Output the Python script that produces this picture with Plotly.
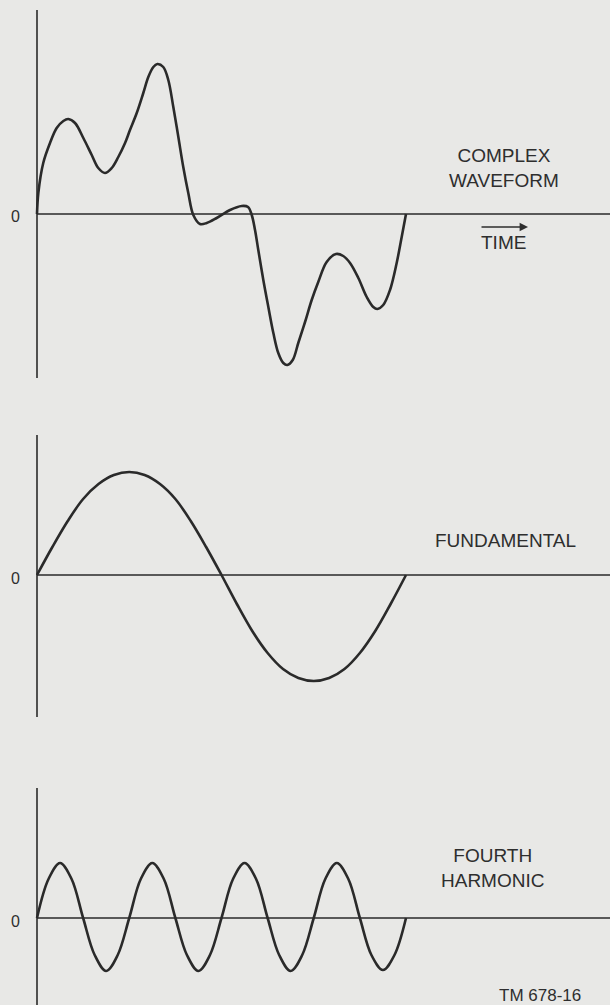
import plotly.graph_objects as go

# ---------------- data (time in degrees of the fundamental, amplitude in arbitrary units) -------------
complex_t = [0, 1.3, 6.1, 12.7, 19.2, 25.7, 30.5, 37.1, 45.2, 53.4, 59.8, 66.3, 72.9, 79.3, 85.9,
             90.7, 97.3, 103.7, 108.6, 113.5, 117.4, 123.2, 128.1, 133.0, 137.9, 142.7, 147.6,
             152.5, 159.0, 165.6, 175.3, 188.3, 199.7, 205.9, 209.5, 212.7, 215.9, 220.8, 225.7,
             230.6, 235.4, 240.3, 244.2, 249.5, 254.9, 261.5, 268.0, 274.4, 282.6, 291.7, 298.8,
             305.4, 313.5, 321.7, 328.1, 332.0, 337.8, 344.4, 350.9, 355.8, 360]
complex_v = [0, 2.1, 5.1, 7.1, 8.6, 9.3, 9.5, 9.1, 7.6, 5.9, 4.6, 4.1, 4.6, 5.7, 7.1,
             8.4, 10.1, 12.1, 13.7, 14.7, 15.0, 14.7, 13.4, 10.7, 7.7, 4.7, 2.1,
             -0.1, -1.0, -0.9, -0.4, 0.4, 0.8, 0.7, -0.1, -1.6, -3.6, -6.6, -9.3,
             -11.9, -13.9, -14.9, -15.1, -14.6, -12.9, -10.8, -8.6, -6.8, -4.8, -4.0, -4.2,
             -4.9, -6.4, -8.3, -9.3, -9.5, -9.1, -7.6, -4.9, -2.3, 0]

fund_t = [0, 15, 30, 45, 60, 75, 90, 105, 120, 135, 150, 165, 180,
          195, 210, 225, 240, 255, 270, 285, 300, 315, 330, 345, 360]
fund_v = [0, 2.8, 5.4, 7.6, 9.1, 10.0, 10.3, 10.0, 9.1, 7.6, 5.4, 2.8, 0,
          -2.9, -5.6, -7.8, -9.4, -10.3, -10.6, -10.3, -9.4, -7.8, -5.6, -2.9, 0]

harm_t = [0, 11.25, 22.5, 33.75, 45, 56.25, 67.5, 78.75, 90, 101.25, 112.5, 123.75, 135,
          146.25, 157.5, 168.75, 180, 191.25, 202.5, 213.75, 225, 236.25, 247.5, 258.75, 270,
          281.25, 292.5, 303.75, 315, 326.25, 337.5, 348.75, 360]
harm_v = [0, 3.9, 5.5, 3.9, 0, -3.7, -5.3, -3.7, 0, 3.9, 5.5, 3.9, 0,
          -3.7, -5.3, -3.7, 0, 3.9, 5.5, 3.9, 0, -3.7, -5.3, -3.7, 0,
          3.9, 5.5, 3.9, 0, -3.7, -5.2, -3.7, 0]

labels = ["COMPLEX<br>WAVEFORM", "FUNDAMENTAL", "FOURTH<br>HARMONIC"]
zero_label = "0"
time_label = "TIME"
figure_id = "TM 678-16"

# ---------------- layout constants (pixels) ----------------
W, H = 610, 1005
BG = "#e8e8e6"
INK = "#2a2a2a"
TXT = "#2e2e2e"
X0 = 37                 # pixel of time 0
PX_PER_DEG = 369 / 360
PX_PER_UNIT = 10.0
FONT = "Liberation Sans"

# (panel top, panel bottom, zero line, axis top, axis bottom)
panels = [(0, 400, 214, 10, 378), (400, 745, 575, 435, 717), (745, 1005, 918, 788, 1005)]

x_range = [-X0 / PX_PER_DEG, (W - X0) / PX_PER_DEG]

fig = go.Figure()
series = [(complex_t, complex_v), (fund_t, fund_v), (harm_t, harm_v)]
layout = dict(width=W, height=H, margin=dict(l=0, r=0, t=0, b=0),
              paper_bgcolor=BG, plot_bgcolor=BG, showlegend=False)
shapes = []
for i, ((t, v), (ptop, pbot, zpx, atop, abot)) in enumerate(zip(series, panels)):
    n = "" if i == 0 else str(i + 1)
    layout["xaxis" + n] = dict(range=x_range, domain=[0, 1], visible=False, fixedrange=True,
                               anchor="y" + n)
    layout["yaxis" + n] = dict(range=[(zpx - pbot) / PX_PER_UNIT, (zpx - ptop) / PX_PER_UNIT],
                               domain=[1 - pbot / H, 1 - ptop / H], visible=False, fixedrange=True,
                               anchor="x" + n)
    fig.add_trace(go.Scatter(x=t, y=v, mode="lines", xaxis="x" + n, yaxis="y" + n,
                             line=dict(color=INK, width=2.6, shape="spline", smoothing=1.0),
                             hoverinfo="skip"))
    # zero line (time axis) and vertical amplitude axis
    shapes.append(dict(type="line", xref="x" + n, yref="y" + n, x0=0, x1=x_range[1], y0=0, y1=0,
                       line=dict(color=INK, width=1.6), layer="below"))
    shapes.append(dict(type="line", xref="x" + n, yref="y" + n, x0=0, x1=0,
                       y0=(zpx - atop) / PX_PER_UNIT, y1=(zpx - abot) / PX_PER_UNIT,
                       line=dict(color=INK, width=1.6), layer="below"))

layout["shapes"] = shapes


def px(x, y):
    return x / W, 1 - y / H


ann = []
font_main = dict(family=FONT, size=19, color=TXT)
for (lx, ly), txt in zip([(504, 168), (505, 540), (492, 868)], labels):
    ax_, ay_ = px(lx, ly)
    ann.append(dict(x=ax_, y=ay_, xref="paper", yref="paper", text=txt, showarrow=False,
                    xanchor="center", yanchor="middle", font=font_main, align="center"))
for zy in [217, 578, 921]:
    ax_, ay_ = px(15, zy)
    ann.append(dict(x=ax_, y=ay_, xref="paper", yref="paper", text=zero_label, showarrow=False,
                    xanchor="center", yanchor="middle",
                    font=dict(family=FONT, size=16, color=TXT)))
# TIME with arrow
ax_, ay_ = px(503, 243)
ann.append(dict(x=ax_, y=ay_, xref="paper", yref="paper", text=time_label, showarrow=False,
                xanchor="center", yanchor="middle", font=font_main))
hx, hy = px(528, 227)
ann.append(dict(x=hx, y=hy, xref="paper", yref="paper", text="", showarrow=True,
                ax=-48, ay=0, arrowhead=2, arrowsize=1.2, arrowwidth=1.4, arrowcolor=TXT))
ax_, ay_ = px(540, 995)
ann.append(dict(x=ax_, y=ay_, xref="paper", yref="paper", text=figure_id, showarrow=False,
                xanchor="center", yanchor="middle",
                font=dict(family=FONT, size=17, color=TXT)))
layout["annotations"] = ann

fig.update_layout(**layout)
fig.write_html("out.html", config={"displayModeBar": False})

with open("out.html", "r", encoding="utf-8") as f:
    html = f.read()
html = html.replace("<body>", '<body style="margin:0;padding:0;overflow:hidden">', 1)
with open("out.html", "w", encoding="utf-8") as f:
    f.write(html)
